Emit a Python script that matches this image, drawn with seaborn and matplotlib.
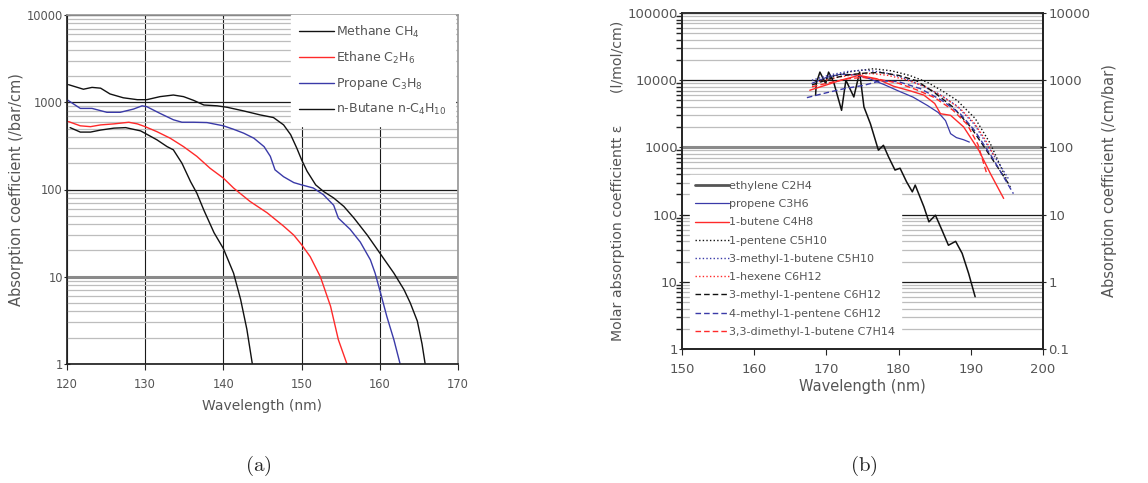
import numpy as np
import pandas as pd
import matplotlib
matplotlib.use('Agg')
import matplotlib.pyplot as plt
import seaborn as sns
from matplotlib.ticker import LogLocator, FuncFormatter, NullFormatter, MultipleLocator

# ---------------- Panel (a) data: absorption coefficient (/bar/cm) ----------------
methane_x = [120.4, 121.7, 123, 124.3, 126, 127.5, 129.4, 130, 131.5, 132.8, 133.6, 134.7, 135.8,
             136.6, 137.5, 138.8, 140, 141.3, 142.2, 143, 143.7]
methane_y = [512, 455, 455, 480, 505, 512, 470, 440, 371, 310, 285, 200, 123, 91, 58, 32, 21, 11,
             5.5, 2.5, 1.0]

ethane_x = [120.2, 121.7, 123, 124.3, 126, 127.9, 129, 130, 131.5, 133.2, 134.9, 136.6, 138.3, 140,
            141.3, 143.4, 145.6, 147.7, 149, 150, 151.1, 152.4, 153.7, 154.7, 155.8]
ethane_y = [600, 537, 525, 550, 565, 590, 565, 525, 460, 387, 310, 240, 175, 135, 104, 73, 54, 38,
            30, 23.3, 17, 10, 4.6, 1.9, 1.0]

propane_x = [120, 121.7, 123.2, 125.1, 126.8, 128.5, 129.6, 130.2, 131.9, 133.6, 134.7, 136.2, 137.9,
             140, 141.3, 142.6, 143.9, 145.2, 146, 146.6, 147.7, 149, 150, 151.5, 152.8, 154.1, 154.7,
             156.2, 157.5, 158.8, 159.4, 160.1, 160.9, 161.8, 162.6]
propane_y = [1070, 850, 850, 767, 767, 835, 910, 890, 745, 630, 590, 590, 585, 537, 490, 442, 387,
             310, 240, 168, 140, 120, 113, 104, 87, 66, 47, 35, 25, 15.6, 11, 6.5, 3.5, 1.9, 1.0]

butane_x = [120.2, 122.1, 123.2, 124.3, 125.5, 127.2, 129, 130.2, 131.9, 133.6, 134.9, 136.2, 137.5,
            139.2, 140.5, 142.6, 144.7, 146.4, 147.7, 148.6, 149.4, 150, 150.7, 151.8, 152.8, 154.1,
            155.4, 156.7, 158.4, 160, 161.8, 163.1, 163.9, 164.8, 165.4, 165.8]
butane_y = [1590, 1410, 1480, 1450, 1245, 1125, 1070, 1070, 1160, 1210, 1160, 1050, 930, 910, 875,
            795, 716, 668, 550, 425, 296, 219, 162, 113, 95, 80, 64, 47, 30, 18.7, 11, 7.1, 5, 3.1,
            1.7, 1.0]

labels_a = [r'Methane $\mathregular{CH_4}$', r'Ethane $\mathregular{C_2H_6}$',
            r'Propane $\mathregular{C_3H_8}$', r'n-Butane n-$\mathregular{C_4H_{10}}$']

# ---------------- Panel (b) data: molar absorption coefficient (l/mol/cm) ----------------
ethylene_x = [168.5, 168.6, 169.1, 169.9, 170.3, 171, 172.1, 172.7, 173.8, 174.6, 175.2, 176.1, 177.2,
              177.9, 178.6, 179.5, 180.2, 181.1, 181.9, 182.3, 183.5, 184.2, 185.1, 186, 186.9, 187.9,
              188.8, 189.7, 190.6]
ethylene_y = [5970, 9000, 13200, 8900, 13200, 9400, 3560, 10000, 5630, 13200, 4000, 2240, 910, 1075,
              725, 460, 490, 308, 218, 275, 131, 78, 98, 59, 35, 40, 26.5, 13.3, 6.0]

propene_x = [168, 170, 172, 174, 176, 178, 180, 182, 184, 185.5, 186.5, 187.2, 188, 189, 189.8]
propene_y = [9000, 11000, 12300, 12000, 10500, 8600, 6900, 5600, 4200, 3300, 2500, 1600, 1400, 1300, 1200]

butene_x = [167.7, 170, 172, 174.5, 177, 179.3, 181.5, 183.5, 185, 185.8, 187.2, 189, 191.1, 192.7, 194.55]
butene_y = [7090, 8500, 10000, 11800, 10500, 8130, 7000, 6000, 4500, 3170, 3000, 2020, 910, 410, 174]

pentene_x = [168.5, 171, 173.5, 176.5, 179, 181.5, 183.9, 186, 188.1, 190.6, 192.7, 195]
pentene_y = [9500, 11500, 13500, 14800, 13800, 11800, 9400, 7000, 5000, 2700, 1140, 325]

m3butene_x = [168, 170.5, 173, 175.3, 178, 180.5, 183, 185.5, 188, 190.5, 192.5, 195.3]
m3butene_y = [10000, 12000, 13500, 14200, 13000, 11000, 8500, 6300, 4200, 2200, 1000, 330]

hexene_x = [169, 171.5, 174, 176.2, 178.5, 181, 183.5, 186, 188.5, 190.5, 192, 193.3]
hexene_y = [9500, 11000, 12200, 12600, 11800, 10200, 8200, 5800, 3800, 2300, 1300, 720]

m3pentene_x = [168, 170.5, 173, 175.5, 177.5, 180, 182.5, 185, 187.5, 190, 192.5, 195.5]
m3pentene_y = [8500, 10500, 12000, 12800, 13000, 11800, 9800, 6500, 4000, 2000, 800, 260]

m4pentene_x = [167.3, 170, 172.5, 175.2, 177.5, 180, 183, 186, 188.5, 190.5, 193, 195.9]
m4pentene_y = [5500, 6500, 7500, 8400, 9800, 9500, 7500, 5000, 3200, 1800, 700, 205]

dmbutene_x = [168, 170.5, 173, 175, 177.5, 180, 182.5, 185, 187.5, 189.5, 191, 192.2]
dmbutene_y = [8000, 9200, 10500, 11000, 10200, 9000, 7200, 5500, 3600, 2200, 1100, 410]

labels_b = ['ethylene C2H4', 'propene C3H6', '1-butene C4H8', '1-pentene C5H10',
            '3-methyl-1-butene C5H10', '1-hexene C6H12', '3-methyl-1-pentene C6H12',
            '4-methyl-1-pentene C6H12', '3,3-dimethyl-1-butene C7H14']

# ---------------- style ----------------
sns.set_theme(style='white')
plt.rcParams['font.family'] = ['DejaVu Sans']
plt.rcParams['mathtext.fontset'] = 'cm'
TXT = '#555555'

fig = plt.figure(figsize=(11.48, 4.83), dpi=100)
W, H = 1148, 483


def axes_px(l, t, r, b):
    return fig.add_axes([l / W, 1 - b / H, (r - l) / W, (b - t) / H])


axA = axes_px(67, 15, 458, 364)
axB = axes_px(682, 13, 1043, 349)

BLUE = '#3a3aa8'
RED = '#ff2a2a'
BLACK = '#111111'


def logstyle(ax, lo, hi, tsize):
    ax.set_yscale('log')
    ax.set_ylim(lo, hi)
    ax.yaxis.set_major_locator(LogLocator(base=10, numticks=20))
    ax.yaxis.set_minor_locator(LogLocator(base=10, subs=np.arange(2, 10), numticks=20))
    ax.yaxis.set_major_formatter(FuncFormatter(lambda v, p: f'{v:g}'))
    ax.yaxis.set_minor_formatter(NullFormatter())
    ax.set_axisbelow(True)
    ax.yaxis.grid(True, which='minor', color='#bdbdbd', lw=0.9)
    ax.yaxis.grid(True, which='major', color='#1a1a1a', lw=0.9)
    ax.tick_params(axis='y', which='major', left=True, length=4, width=0.8, direction='inout',
                   labelsize=tsize, labelcolor=TXT, pad=1)
    ax.tick_params(axis='y', which='minor', left=False, right=False)
    ax.tick_params(axis='x', which='major', bottom=True, length=4, width=0.8, direction='out',
                   labelsize=tsize, labelcolor=TXT, pad=6)


# ---------------- panel (a) ----------------
series_a = [(methane_x, methane_y, BLACK), (ethane_x, ethane_y, RED),
            (propane_x, propane_y, BLUE), (butane_x, butane_y, BLACK)]
for (xs, ys, c), lab in zip(series_a, labels_a):
    sns.lineplot(x=xs, y=ys, ax=axA, color=c, lw=1.0, estimator=None, sort=False, label=lab)

logstyle(axA, 1, 10000, 8.3)
axA.set_xlim(120, 170)
axA.xaxis.set_major_locator(MultipleLocator(10))
axA.xaxis.grid(True, which='major', color='#1a1a1a', lw=0.8)
axA.axhline(10, color='#8a8a8a', lw=2.2, zorder=0.8)
for s in ['left', 'bottom']:
    axA.spines[s].set_color('#222222')
for s in ['top', 'right']:
    axA.spines[s].set_color('#999999')
axA.set_xlabel('Wavelength (nm)', fontsize=10, color=TXT, labelpad=6)
axA.set_ylabel('Absorption coefficient (/bar/cm)', fontsize=10.5, color=TXT, labelpad=2)
legA = axA.legend(loc='upper right', bbox_to_anchor=(0.993, 1.0), borderaxespad=0, frameon=True,
                  facecolor='white', edgecolor='white', framealpha=1, fancybox=False,
                  fontsize=9, labelcolor=TXT, handlelength=2.8, handletextpad=0.15,
                  labelspacing=0.8, borderpad=0.7)

# ---------------- panel (b) ----------------
series_b = [
    (ethylene_x, ethylene_y, BLACK, '-', 1.1),
    (propene_x, propene_y, BLUE, '-', 0.9),
    (butene_x, butene_y, RED, '-', 1.0),
    (pentene_x, pentene_y, BLACK, (0, (1, 1.6)), 1.0),
    (m3butene_x, m3butene_y, BLUE, (0, (1, 1.6)), 1.0),
    (hexene_x, hexene_y, RED, (0, (1, 1.6)), 1.0),
    (m3pentene_x, m3pentene_y, BLACK, (0, (4, 2.2)), 1.0),
    (m4pentene_x, m4pentene_y, BLUE, (0, (4, 2.2)), 1.0),
    (dmbutene_x, dmbutene_y, RED, (0, (4, 2.2)), 1.0),
]
for (xs, ys, c, ls, lw), lab in zip(series_b, labels_b):
    sns.lineplot(x=xs, y=ys, ax=axB, color=c, lw=lw, linestyle=ls, estimator=None, sort=False,
                 label=lab)

logstyle(axB, 1, 100000, 9.5)
axB.set_xlim(150, 200)
axB.xaxis.set_major_locator(MultipleLocator(10))
axB.axhline(1000, color='#8a8a8a', lw=2.2, zorder=0.8)
for s in ['left', 'bottom', 'right']:
    axB.spines[s].set_color('#222222')
axB.spines['top'].set_color('#999999')
axB.set_xlabel('Wavelength (nm)', fontsize=10.5, color=TXT, labelpad=2)
axB.set_ylabel('Molar absorption coefficientt ε       (l/mol/cm)', fontsize=10.2, color=TXT,
               labelpad=2)
handles, labs = axB.get_legend_handles_labels()
legB = axB.legend(handles, labs, loc='lower left', bbox_to_anchor=(0.022, 0.02), borderaxespad=0,
                  frameon=True, facecolor='white', edgecolor='white', framealpha=1, fancybox=False,
                  fontsize=8, labelcolor=TXT, handlelength=3.0, handletextpad=0.05,
                  labelspacing=0.74, borderpad=0.5)
legB.get_lines()[0].set_linewidth(2.0)
legB.get_lines()[0].set_color('#555555')

axB2 = axB.twinx()
axB2.set_yscale('log')
axB2.set_ylim(0.1, 10000)
axB2.yaxis.set_major_locator(LogLocator(base=10, numticks=20))
axB2.yaxis.set_minor_locator(LogLocator(base=10, subs=np.arange(2, 10), numticks=20))
axB2.yaxis.set_major_formatter(FuncFormatter(lambda v, p: f'{v:g}'))
axB2.yaxis.set_minor_formatter(NullFormatter())
axB2.grid(False)
axB2.tick_params(axis='y', which='major', right=True, length=4, width=0.8, direction='inout',
                 labelsize=9.5, labelcolor=TXT, pad=2)
axB2.tick_params(axis='y', which='minor', right=False)
axB2.spines['right'].set_color('#222222')
axB2.set_ylabel('Absorption coefficient (/cm/bar)', fontsize=10.5, color=TXT, labelpad=8)

# ---------------- captions ----------------
fig.text(258 / W, 1 - 466 / H, r'$\mathrm{(a)}$', fontsize=15, ha='center', va='center')
fig.text(864 / W, 1 - 466 / H, r'$\mathrm{(b)}$', fontsize=15, ha='center', va='center')

fig.savefig('out.png', dpi=100)
